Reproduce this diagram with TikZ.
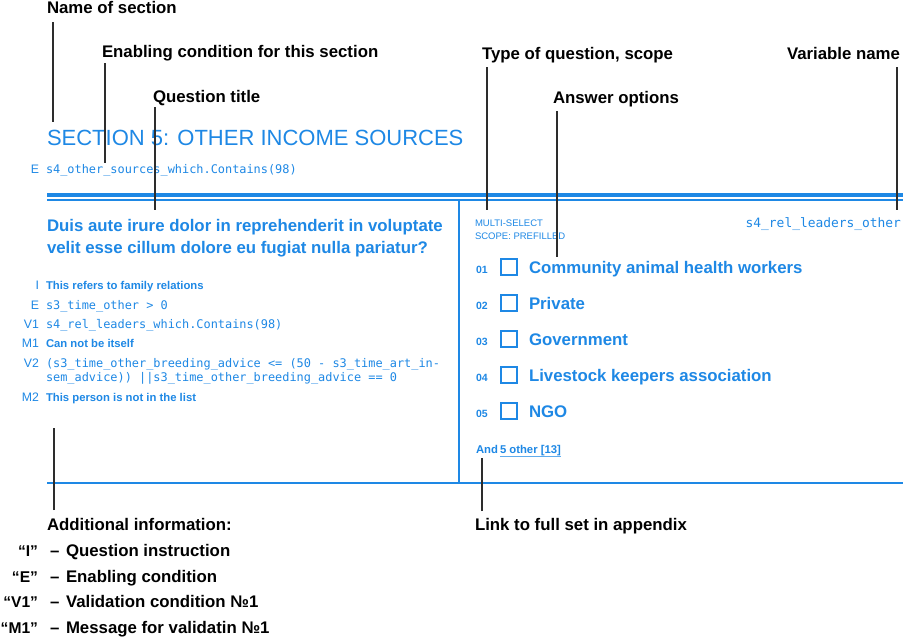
\documentclass[tikz,border=0pt]{standalone}
\usepackage{fontspec}
\setmainfont{Liberation Sans}
\newfontfamily\codefont{DejaVu Sans Mono}
\definecolor{qblue}{RGB}{30,136,229}
\definecolor{leadgray}{RGB}{45,45,45}
\begin{document}
\begin{tikzpicture}[x=1pt,y=-1pt,
  every node/.style={inner sep=0pt, outer sep=0pt},
  callout/.style={anchor=base west, text=black, font=\bfseries\fontsize{16.8}{20}\selectfont},
  legendkey/.style={anchor=base east, text=black, font=\bfseries\fontsize{15.6}{20}\selectfont},
  leader/.style={draw=leadgray, line width=1.2pt},
  rule/.style={draw=qblue, line width=1.4pt},
  tag/.style={anchor=base east, text=qblue, font=\fontsize{12.3}{14}\selectfont},
  code/.style={anchor=base west, text=qblue, font=\codefont\fontsize{11.9}{14}\selectfont},
  note/.style={anchor=base west, text=qblue, font=\bfseries\fontsize{11.3}{13}\selectfont},
  qtype/.style={anchor=base west, text=qblue, font=\fontsize{9.5}{11}\selectfont},
  optnum/.style={anchor=base west, text=qblue, font=\bfseries\fontsize{10.5}{12}\selectfont},
  optbox/.style={draw=qblue, line width=1.4pt, minimum size=16pt, anchor=center},
  opttext/.style={anchor=base west, text=qblue, font=\bfseries\fontsize{16.8}{20}\selectfont},
]
\fill[white] (0,0) rectangle (903,640);
\useasboundingbox (0,0) rectangle (903,640);

% ---- callout labels ----
\node[callout] (lblName) at (47,13) {Name of section};
\node[callout] (lblEnable) at (102,57) {Enabling condition for this section};
\node[callout] (lblQTitle) at (153,102) {Question title};
\node[callout] (lblType) at (482,59) {Type of question, scope};
\node[callout, anchor=base east] (lblVar) at (900,59) {Variable name};
\node[callout] (lblAnswers) at (553,103) {Answer options};
\node[callout] (lblAdd) at (47,530) {Additional information:};
\node[callout] (lblLink) at (475,530) {Link to full set in appendix};

% ---- section header ----
\node[anchor=base west, text=qblue, font=\fontsize{22}{26}\selectfont] (secTitle) at (47,145) {SECTION 5: OTHER INCOME SOURCES};
\node[tag] (secETag) at (39,173) {E};
\node[code] (secE) at (46,173) {s4\_other\_sources\_which.Contains(98)};

% ---- rules ----
\draw[qblue, line width=4pt] (47,195) -- (903,195);
\draw[rule] (47,200) -- (903,200);
\draw[rule] (459,200) -- (459,483);
\draw[rule] (47,483) -- (903,483);

% ---- question (left column) ----
\node[opttext] (qtitleA) at (47,231) {Duis aute irure dolor in reprehenderit in voluptate};
\node[opttext] (qtitleB) at (47,253) {velit esse cillum dolore eu fugiat nulla pariatur?};

\node[tag] (tagI) at (39,289) {I};
\node[note] (txtI) at (46,289) {This refers to family relations};
\node[tag] (tagE) at (39,309) {E};
\node[code] (txtE) at (46,309) {s3\_time\_other > 0};
\node[tag] (tagVa) at (39,328) {V1};
\node[code] (txtVa) at (46,328) {s4\_rel\_leaders\_which.Contains(98)};
\node[tag] (tagMa) at (39,347) {M1};
\node[note] (txtMa) at (46,347) {Can not be itself};
\node[tag] (tagVb) at (39,367) {V2};
\node[code] (txtVbA) at (46,367) {(s3\_time\_other\_breeding\_advice <= (50 - s3\_time\_art\_in-};
\node[code] (txtVbB) at (46,381) {sem\_advice)) ||s3\_time\_other\_breeding\_advice == 0};
\node[tag] (tagMb) at (39,401) {M2};
\node[note] (txtMb) at (46,401) {This person is not in the list};

% ---- answers (right column) ----
\node[qtype] (qtypeA) at (475,226) {MULTI-SELECT};
\node[qtype] (qtypeB) at (475,239) {SCOPE: PREFILLED};
\node[code, anchor=base east, font=\codefont\fontsize{12.9}{15}\selectfont] (varName) at (901,227) {s4\_rel\_leaders\_other};

\foreach \i/\n/\t in {1/01/Community animal health workers, 2/02/Private, 3/03/Government, 4/04/Livestock keepers association, 5/05/NGO}{
  \pgfmathsetmacro\yy{237+36*\i}
  \node[optnum] (num\n) at (476,\yy) {\n};
  \node[optbox] (box\n) at (509,\yy-6) {};
  \node[opttext] (opt\n) at (529,\yy) {\t};
}

\node[note] (andLbl) at (476,453) {And};
\node[note] (moreLink) at (500,453) {5 other [13]};
\draw[qblue!70, line width=0.7pt] ([yshift=-3pt]moreLink.base west) -- ([yshift=-3pt]moreLink.base east);

% ---- legend ----
\foreach \k/\d/\yy in {I/Question instruction/556, E/Enabling condition/582, V1/Validation condition №1/607, M1/Message for validatin №1/633}{
  \node[legendkey] (key\k) at (38,\yy) {“\k”};
  \node[callout] (dash\k) at (50,\yy) {–};
  \node[callout] (desc\k) at (66,\yy) {\d};
}

% ---- leader lines ----
\coordinate (nameTip) at (53,122);
\coordinate (enableTip) at (105,163);
\coordinate (qTitleTip) at (155,210);
\coordinate (typeTip) at (487,210);
\coordinate (varTip) at (897,210);
\coordinate (answersTip) at (557,257);
\coordinate (addTip) at (54,428);
\coordinate (linkTip) at (482,458);

\draw[leader] (nameTip |- lblName.base) ++(0,9) -- (nameTip);
\draw[leader] (enableTip |- lblEnable.base) ++(0,6) -- (enableTip);
\draw[leader] (qTitleTip |- lblQTitle.base) ++(0,5) -- (qTitleTip);
\draw[leader] (typeTip |- lblType.base) ++(0,8) -- (typeTip);
\draw[leader] (varTip |- lblVar.base) ++(0,8) -- (varTip);
\draw[leader] (answersTip |- lblAnswers.base) ++(0,8) -- (answersTip);
\draw[leader] (addTip |- lblAdd.base) ++(0,-20) -- (addTip);
\draw[leader] (linkTip |- lblLink.base) ++(0,-19) -- (linkTip);
\end{tikzpicture}
\end{document}
